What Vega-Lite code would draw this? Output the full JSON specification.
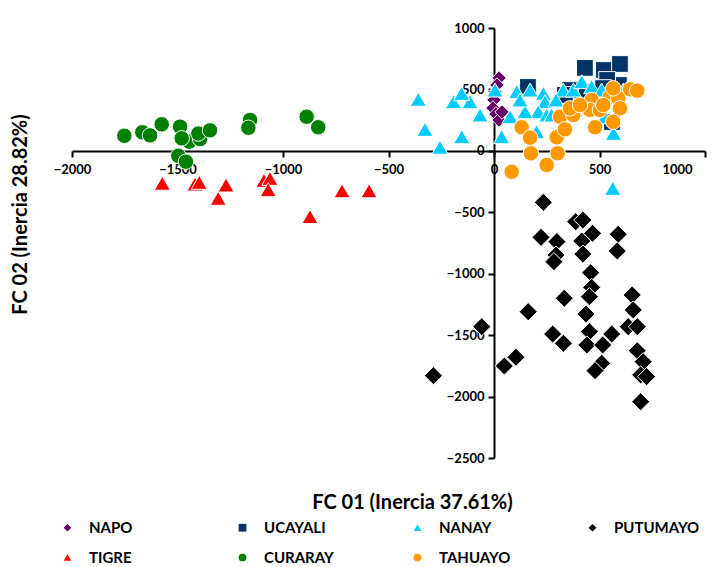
{
  "$schema": "https://vega.github.io/schema/vega-lite/v6.json",
  "autosize": "none",
  "width": 633,
  "height": 430,
  "padding": {"left": 72, "top": 28, "right": 18, "bottom": 109},
  "background": "white",
  "config": {
    "view": {"stroke": null},
    "legend": {
      "orient": "none",
      "direction": "horizontal",
      "legendX": -12,
      "legendY": 492,
      "columns": 4,
      "gridAlign": "all",
      "columnPadding": 60,
      "rowPadding": 14,
      "symbolSize": 60,
      "symbolStrokeWidth": 0,
      "labelFont": "Lato",
      "labelFontWeight": "bold",
      "labelFontSize": 15,
      "labelColor": "black",
      "labelOffset": 14,
      "padding": 0,
      "title": null
    }
  },
  "data": {
    "values": [
      {"g": "NAPO", "x": 24, "y": 593},
      {"g": "NAPO", "x": 14, "y": 536},
      {"g": "NAPO", "x": 5, "y": 480},
      {"g": "NAPO", "x": 0, "y": 415},
      {"g": "NAPO", "x": -5, "y": 349},
      {"g": "NAPO", "x": 9, "y": 300},
      {"g": "NAPO", "x": 24, "y": 251},
      {"g": "NAPO", "x": 38, "y": 316},
      {"g": "UCAYALI", "x": 161, "y": 520},
      {"g": "UCAYALI", "x": 431, "y": 675},
      {"g": "UCAYALI", "x": 521, "y": 658},
      {"g": "UCAYALI", "x": 597, "y": 707},
      {"g": "UCAYALI", "x": 592, "y": 536},
      {"g": "UCAYALI", "x": 536, "y": 577},
      {"g": "UCAYALI", "x": 417, "y": 479},
      {"g": "UCAYALI", "x": 360, "y": 495},
      {"g": "UCAYALI", "x": 559, "y": 235},
      {"g": "UCAYALI", "x": 517, "y": 511},
      {"g": "UCAYALI", "x": 336, "y": 455},
      {"g": "NANAY", "x": -359, "y": 420},
      {"g": "NANAY", "x": -327, "y": 175},
      {"g": "NANAY", "x": -256, "y": 29},
      {"g": "NANAY", "x": -153, "y": 115},
      {"g": "NANAY", "x": -192, "y": 400},
      {"g": "NANAY", "x": -114, "y": 400},
      {"g": "NANAY", "x": -153, "y": 468},
      {"g": "NANAY", "x": -66, "y": 292},
      {"g": "NANAY", "x": 5, "y": 495},
      {"g": "NANAY", "x": 36, "y": 115},
      {"g": "NANAY", "x": 76, "y": 278},
      {"g": "NANAY", "x": 108, "y": 482},
      {"g": "NANAY", "x": 171, "y": 495},
      {"g": "NANAY", "x": 234, "y": 468},
      {"g": "NANAY", "x": 242, "y": 400},
      {"g": "NANAY", "x": 210, "y": 319},
      {"g": "NANAY", "x": 147, "y": 319},
      {"g": "NANAY", "x": 250, "y": 292},
      {"g": "NANAY", "x": 202, "y": 156},
      {"g": "NANAY", "x": 273, "y": 292},
      {"g": "NANAY", "x": 328, "y": 495},
      {"g": "NANAY", "x": 376, "y": 495},
      {"g": "NANAY", "x": 416, "y": 563},
      {"g": "NANAY", "x": 384, "y": 333},
      {"g": "NANAY", "x": 463, "y": 522},
      {"g": "NANAY", "x": 510, "y": 495},
      {"g": "NANAY", "x": 526, "y": 278},
      {"g": "NANAY", "x": 566, "y": 143},
      {"g": "NANAY", "x": 613, "y": 495},
      {"g": "NANAY", "x": 563, "y": -305},
      {"g": "NANAY", "x": 123, "y": 414},
      {"g": "NANAY", "x": 294, "y": 414},
      {"g": "PUTUMAYO", "x": 234, "y": -419},
      {"g": "PUTUMAYO", "x": 223, "y": -704},
      {"g": "PUTUMAYO", "x": 298, "y": -739},
      {"g": "PUTUMAYO", "x": 294, "y": -848},
      {"g": "PUTUMAYO", "x": 284, "y": -902},
      {"g": "PUTUMAYO", "x": 387, "y": -577},
      {"g": "PUTUMAYO", "x": 421, "y": -563},
      {"g": "PUTUMAYO", "x": 467, "y": -671},
      {"g": "PUTUMAYO", "x": 416, "y": -734},
      {"g": "PUTUMAYO", "x": 421, "y": -840},
      {"g": "PUTUMAYO", "x": 589, "y": -679},
      {"g": "PUTUMAYO", "x": 584, "y": -815},
      {"g": "PUTUMAYO", "x": 458, "y": -992},
      {"g": "PUTUMAYO", "x": 463, "y": -1111},
      {"g": "PUTUMAYO", "x": 452, "y": -1187},
      {"g": "PUTUMAYO", "x": 333, "y": -1200},
      {"g": "PUTUMAYO", "x": 162, "y": -1309},
      {"g": "PUTUMAYO", "x": 436, "y": -1328},
      {"g": "PUTUMAYO", "x": 655, "y": -1173},
      {"g": "PUTUMAYO", "x": 660, "y": -1295},
      {"g": "PUTUMAYO", "x": 636, "y": -1431},
      {"g": "PUTUMAYO", "x": 679, "y": -1431},
      {"g": "PUTUMAYO", "x": -58, "y": -1431},
      {"g": "PUTUMAYO", "x": 278, "y": -1491},
      {"g": "PUTUMAYO", "x": 329, "y": -1566},
      {"g": "PUTUMAYO", "x": 452, "y": -1472},
      {"g": "PUTUMAYO", "x": 440, "y": -1580},
      {"g": "PUTUMAYO", "x": 558, "y": -1491},
      {"g": "PUTUMAYO", "x": 515, "y": -1580},
      {"g": "PUTUMAYO", "x": 510, "y": -1729},
      {"g": "PUTUMAYO", "x": 479, "y": -1789},
      {"g": "PUTUMAYO", "x": 679, "y": -1627},
      {"g": "PUTUMAYO", "x": 707, "y": -1716},
      {"g": "PUTUMAYO", "x": 695, "y": -1824},
      {"g": "PUTUMAYO", "x": 723, "y": -1838},
      {"g": "PUTUMAYO", "x": 695, "y": -2042},
      {"g": "PUTUMAYO", "x": 104, "y": -1680},
      {"g": "PUTUMAYO", "x": 49, "y": -1751},
      {"g": "PUTUMAYO", "x": -287, "y": -1830},
      {"g": "TIGRE", "x": -1572, "y": -264},
      {"g": "TIGRE", "x": -1417, "y": -270},
      {"g": "TIGRE", "x": -1397, "y": -256},
      {"g": "TIGRE", "x": -1270, "y": -278},
      {"g": "TIGRE", "x": -1307, "y": -386},
      {"g": "TIGRE", "x": -1090, "y": -240},
      {"g": "TIGRE", "x": -1062, "y": -224},
      {"g": "TIGRE", "x": -1070, "y": -316},
      {"g": "TIGRE", "x": -720, "y": -325},
      {"g": "TIGRE", "x": -592, "y": -325},
      {"g": "TIGRE", "x": -872, "y": -535},
      {"g": "CURARAY", "x": -1752, "y": 123},
      {"g": "CURARAY", "x": -1667, "y": 151},
      {"g": "CURARAY", "x": -1630, "y": 126},
      {"g": "CURARAY", "x": -1575, "y": 216},
      {"g": "CURARAY", "x": -1488, "y": 197},
      {"g": "CURARAY", "x": -1444, "y": 75},
      {"g": "CURARAY", "x": -1480, "y": 102},
      {"g": "CURARAY", "x": -1393, "y": 96},
      {"g": "CURARAY", "x": -1401, "y": 141},
      {"g": "CURARAY", "x": -1346, "y": 167},
      {"g": "CURARAY", "x": -1496, "y": -40},
      {"g": "CURARAY", "x": -1460, "y": -88},
      {"g": "CURARAY", "x": -1156, "y": 251},
      {"g": "CURARAY", "x": -1164, "y": 188},
      {"g": "CURARAY", "x": -888, "y": 278},
      {"g": "CURARAY", "x": -833, "y": 192},
      {"g": "TAHUAYO", "x": 84, "y": -170},
      {"g": "TAHUAYO", "x": 131, "y": 192},
      {"g": "TAHUAYO", "x": 171, "y": 107},
      {"g": "TAHUAYO", "x": 175, "y": -20},
      {"g": "TAHUAYO", "x": 250, "y": -115},
      {"g": "TAHUAYO", "x": 297, "y": 110},
      {"g": "TAHUAYO", "x": 302, "y": -20},
      {"g": "TAHUAYO", "x": 313, "y": 278},
      {"g": "TAHUAYO", "x": 336, "y": 175},
      {"g": "TAHUAYO", "x": 376, "y": 292},
      {"g": "TAHUAYO", "x": 360, "y": 346},
      {"g": "TAHUAYO", "x": 431, "y": 359},
      {"g": "TAHUAYO", "x": 463, "y": 414},
      {"g": "TAHUAYO", "x": 455, "y": 333},
      {"g": "TAHUAYO", "x": 479, "y": 192},
      {"g": "TAHUAYO", "x": 550, "y": 441},
      {"g": "TAHUAYO", "x": 589, "y": 428},
      {"g": "TAHUAYO", "x": 597, "y": 346},
      {"g": "TAHUAYO", "x": 565, "y": 237},
      {"g": "TAHUAYO", "x": 565, "y": 509},
      {"g": "TAHUAYO", "x": 645, "y": 501},
      {"g": "TAHUAYO", "x": 679, "y": 490},
      {"g": "TAHUAYO", "x": 408, "y": 373},
      {"g": "TAHUAYO", "x": 502, "y": 333},
      {"g": "TAHUAYO", "x": 518, "y": 373}
    ]
  },
  "mark": {"type": "point", "filled": true, "opacity": 1, "stroke": "white", "strokeWidth": 1},
  "encoding": {
    "x": {
      "field": "x", "type": "quantitative",
      "scale": {"domain": [-2000, 1000], "nice": false, "zero": false},
      "axis": {
        "orient": "bottom", "offset": -307, "format": "d",
        "values": [-2000, -1500, -1000, -500, 0, 500, 1000],
        "grid": false, "domainColor": "black", "domainWidth": 2,
        "tickColor": "black", "tickWidth": 2, "tickSize": 6,
        "labelFont": "Lato", "labelFontWeight": "bold", "labelFontSize": 13, "labelColor": "black",
        "labelPadding": 6, "labelOverlap": false, "labelFlush": false,
        "labelOffset": {"condition": {"test": "datum.value == 1000", "value": -28}, "value": 0},
        "title": "FC  01 (Inercia 37.61%)",
        "titleFont": "Lato", "titleFontSize": 20, "titleFontWeight": "bold", "titleColor": "black",
        "titleX": 340, "titleY": 351, "titleAlign": "center", "titleBaseline": "middle"
      }
    },
    "y": {
      "field": "y", "type": "quantitative",
      "scale": {"domain": [-2500, 1000], "nice": false, "zero": false},
      "axis": {
        "orient": "left", "offset": -422, "format": "d",
        "values": [-2500, -2000, -1500, -1000, -500, 0, 500, 1000],
        "grid": false, "domainColor": "black", "domainWidth": 2,
        "tickColor": "black", "tickWidth": 2, "tickSize": 6,
        "labelFont": "Lato", "labelFontWeight": "bold", "labelFontSize": 13, "labelColor": "black",
        "labelPadding": 4, "labelOverlap": false,
        "title": "FC 02 (Inercia 28.82%)",
        "titleFont": "Lato", "titleFontSize": 20, "titleFontWeight": "bold", "titleColor": "black",
        "titleX": -474, "titleY": 186, "titleAngle": 270, "titleAlign": "center", "titleBaseline": "middle"
      }
    },
    "color": {
      "field": "g", "type": "nominal",
      "scale": {
        "domain": ["NAPO", "UCAYALI", "NANAY", "PUTUMAYO", "TIGRE", "CURARAY", "TAHUAYO"],
        "range": ["#660066", "#003366", "#00CCFF", "#000000", "#FF0000", "#008000", "#FF9900"]
      },
      "legend": {"title": null}
    },
    "shape": {
      "field": "g", "type": "nominal",
      "scale": {
        "domain": ["NAPO", "UCAYALI", "NANAY", "PUTUMAYO", "TIGRE", "CURARAY", "TAHUAYO"],
        "range": ["diamond", "square", "triangle-up", "diamond", "triangle-up", "circle", "circle"]
      },
      "legend": {"title": null}
    },
    "size": {
      "condition": [
        {"test": "datum.g == 'PUTUMAYO'", "value": 330},
        {"test": "datum.g == 'NAPO'", "value": 210},
        {"test": "datum.g == 'UCAYALI'", "value": 280},
        {"test": "datum.g == 'NANAY' || datum.g == 'TIGRE'", "value": 260}
      ],
      "value": 240
    }
  }
}
